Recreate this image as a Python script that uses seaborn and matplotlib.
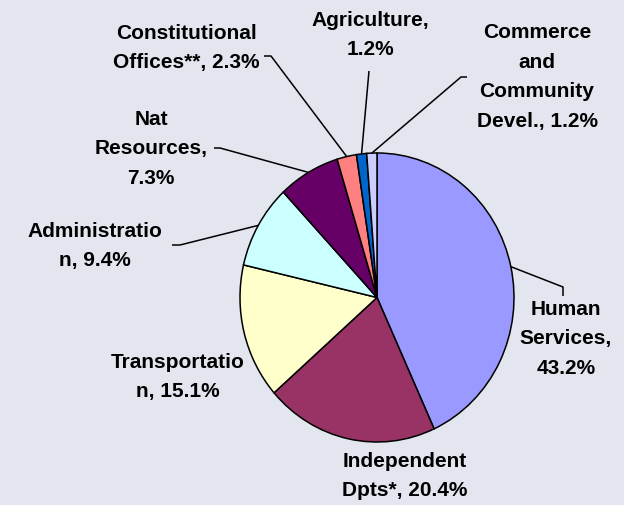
import matplotlib
matplotlib.use("Agg")
import matplotlib.pyplot as plt
import seaborn as sns
import numpy as np

# --- Data ---
labels = ["Human\nServices,\n43.2%", "Independent\nDpts*, 20.4%", "Transportatio\nn, 15.1%",
          "Administratio\nn, 9.4%", "Nat\nResources,\n7.3%", "Constitutional\nOffices**, 2.3%",
          "Agriculture,\n1.2%", "Commerce\nand\nCommunity\nDevel., 1.2%"]
shares = [43.2, 20.4, 15.1, 9.4, 7.3, 2.3, 1.2, 1.2]
colors = ["#9999FF", "#993366", "#FFFFCC", "#CCFFFF", "#660066", "#FF8080", "#0066CC", "#CCCCFF"]

# --- Layout (pixels in the 624x506 canvas) ---
W, H = 624, 506
CX, CY = 377, 298.5      # pie centre
RX, RY = 137, 144.5      # pie radii (slightly tall ellipse)
BG = "#E3E6EE"

# label centre positions (px) and leader line elbows (px); None -> no leader
label_pos = [(566, 339), (405, 476), (178, 377), (95, 246), (151, 149), (186, 48), (370, 35), (537, 77)]
elbows = [[(563, 288), (563, 297)], None, None, [(180, 246), (172, 246)],
          [(220, 149), (214, 149)], [(271, 57), (264, 57)], [(369, 72)], [(461, 78), (467, 78)]]


def to_data(x, y):
    return (x - CX) / RX, (CY - y) / RY


sns.set_theme(style="white")
plt.rcParams["font.family"] = ["Liberation Sans", "DejaVu Sans"]

fig = plt.figure(figsize=(W / 100, H / 100), dpi=100)
fig.patch.set_facecolor(BG)
ax = fig.add_axes([0, 0, 1, 1])
ax.set_facecolor(BG)

wedges, _ = ax.pie(shares, colors=colors, startangle=90, counterclock=False, radius=1,
                   wedgeprops=dict(edgecolor="black", linewidth=1.1))

ax.set_aspect("auto")
ax.set_xlim(to_data(0, 0)[0], to_data(W, 0)[0])
ax.set_ylim(to_data(0, H)[1], to_data(0, 0)[1])
ax.axis("off")

for w, lab, pos, elb in zip(wedges, labels, label_pos, elbows):
    tx, ty = to_data(*pos)
    ax.text(tx, ty, lab, ha="center", va="center", fontsize=15, fontweight="bold",
            linespacing=1.7, color="black")
    if elb is None:
        continue
    mid = np.deg2rad((w.theta1 + w.theta2) / 2)
    xs = [np.cos(mid)] + [to_data(*p)[0] for p in elb]
    ys = [np.sin(mid)] + [to_data(*p)[1] for p in elb]
    ax.plot(xs, ys, color="black", linewidth=1.1, solid_capstyle="butt")

fig.savefig("out.png", dpi=100, facecolor=BG)
